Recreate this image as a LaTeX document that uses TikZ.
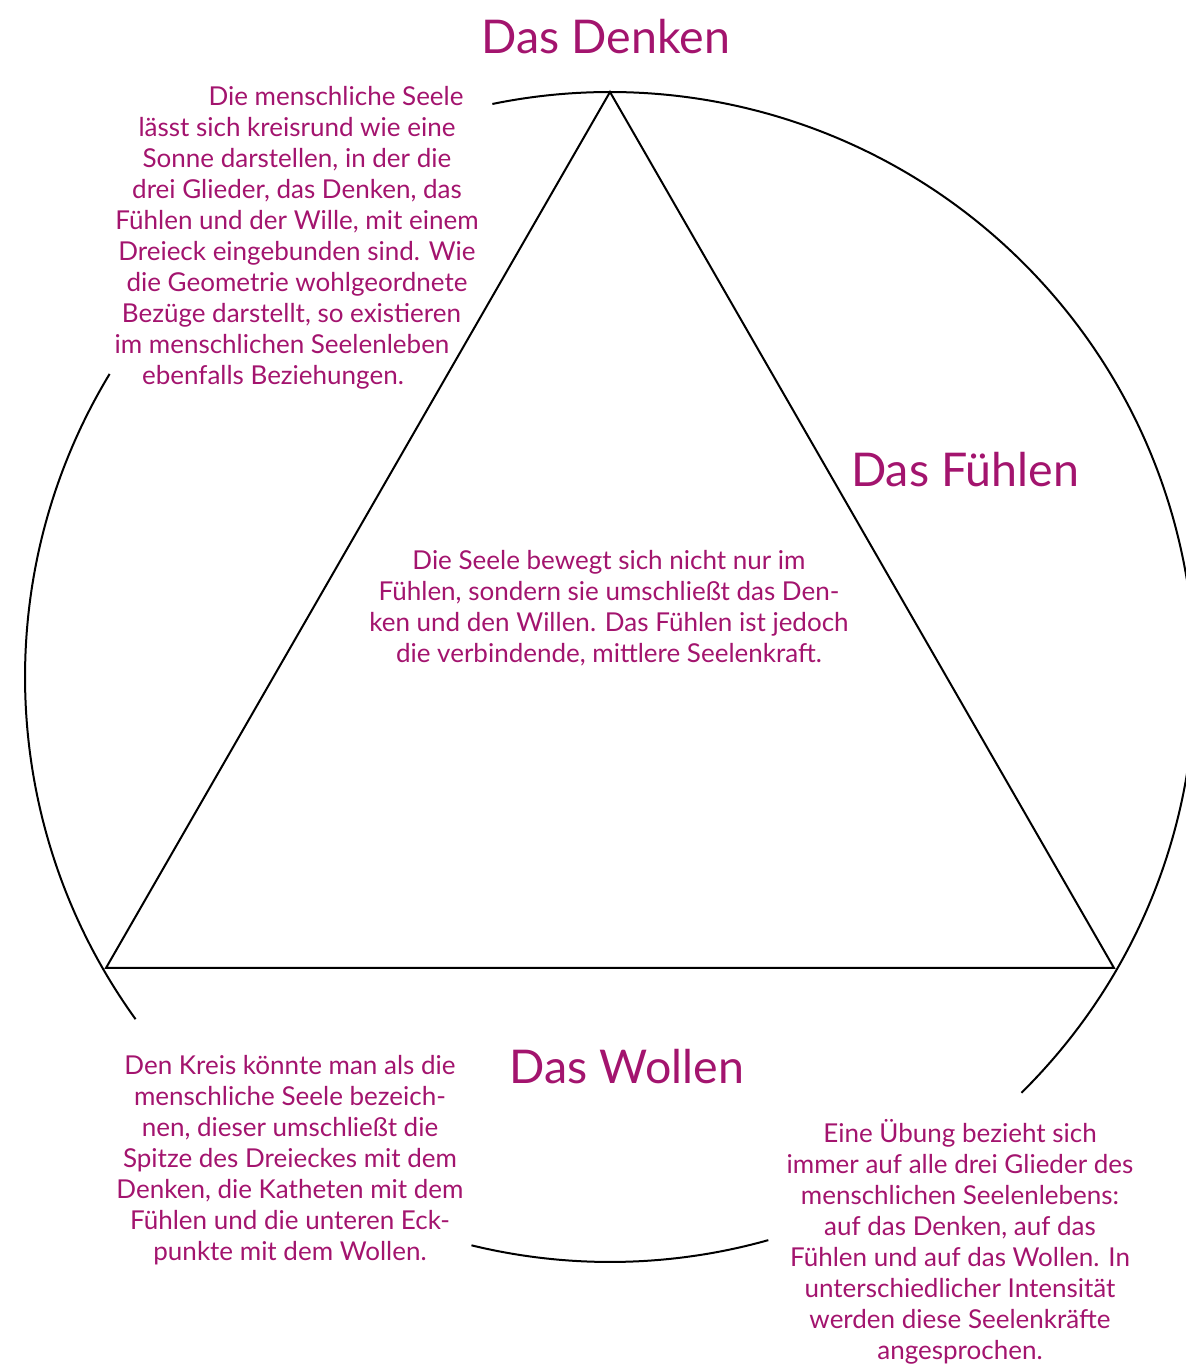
\documentclass[tikz,border=0pt]{standalone}
\usepackage{fontspec}
\setmainfont{Lato}
\definecolor{seelenrot}{RGB}{163,20,110}
\tikzset{
  titel/.style={text=seelenrot, inner sep=0pt, font=\fontsize{46.5}{52}\selectfont},
  absatz/.style={text=seelenrot, inner sep=0pt, align=center, font=\fontsize{26}{31}\selectfont},
}
\begin{document}
\begin{tikzpicture}[x=1pt, y=1pt, line width=2pt]
    \useasboundingbox (0,0) rectangle (1186,1366);
    % Kreis, mit Luecken fuer die Texte
    \draw (610,689) ++(-45.3:585pt) arc[start angle=-45.3, end angle=101.6, radius=585pt];
    \draw (610,689) ++(148.8:585pt) arc[start angle=148.8, end angle=215.8, radius=585pt];
    \draw (610,689) ++(256.3:585pt) arc[start angle=256.3, end angle=285.7, radius=585pt];
    % Dreieck
    \coordinate (spitze) at (610,1274);
    \coordinate (links) at (106,398);
    \coordinate (rechts) at (1114,398);
    \draw (spitze) -- (links) -- (rechts) -- cycle;
    % Glieder
    \node[titel] (denken) at (606,1329) {Das Denken};
    \node[titel] (fuehlen) at (965,896) {Das Fühlen};
    \node[titel] (wollen) at (627,299) {Das Wollen};
    % Texte
    \node[absatz] (seele) at (297,1128) {\hspace*{78pt}Die menschliche Seele\\
      lässt sich kreisrund wie eine\\ Sonne darstellen, in der die\\
      drei Glieder, das Denken, das\\ Fühlen und der Wille, mit einem\\
      Dreieck eingebunden sind. Wie\\ die Geometrie wohlgeordnete\\
      Bezüge darstellt, so existieren\hspace*{11pt}\null\\ im menschlichen Seelenleben\hspace*{30pt}\null\\
      ebenfalls Beziehungen.\hspace*{48pt}};
    \node[absatz] (mitte) at (609,758) {Die Seele bewegt sich nicht nur im\\
      Fühlen, sondern sie umschließt das Den-\\ ken und den Willen. Das Fühlen ist jedoch\\
      die verbindende, mittlere Seelenkraft.};
    \node[absatz] (kreis) at (290,206) {Den Kreis könnte man als die\\
      menschliche Seele bezeich-\\ nen, dieser umschließt die\\
      Spitze des Dreieckes mit dem\\ Denken, die Katheten mit dem\\
      Fühlen und die unteren Eck-\\ punkte mit dem Wollen.};
    \node[absatz] (uebung) at (960,124) {Eine Übung bezieht sich\\
      immer auf alle drei Glieder des\\ menschlichen Seelenlebens:\\
      auf das Denken, auf das\\ Fühlen und auf das Wollen. In\\
      unterschiedlicher Intensität\\ werden diese Seelenkräfte\\ angesprochen.};
\end{tikzpicture}
\end{document}
